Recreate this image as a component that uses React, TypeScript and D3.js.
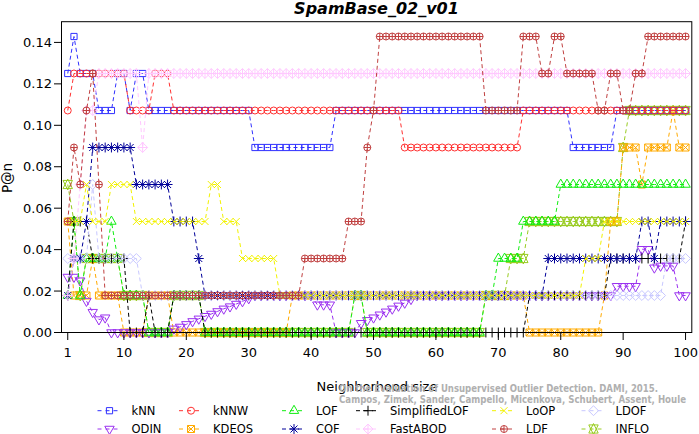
import React from "react";
import * as d3 from "d3";

// neighborhood size k = 1..100, n = 56 outliers (P@n = hits / 56)
const neighborhoodSizes = d3.range(1, 101);
const outlierCount = 56;

const xTicks = [1, 10, 20, 30, 40, 50, 60, 70, 80, 90, 100];
const yTicks = [0, 0.02, 0.04, 0.06, 0.08, 0.1, 0.12, 0.14];

// hits in the top n, per k
const kNN = [
  7, 8, 7, 7, 7, 6, 6, 6, 7, 7,
  6, 7, 7, 6, 6, 6, 6, 6, 6, 6,
  6, 6, 6, 6, 6, 6, 6, 6, 6, 6,
  5, 5, 5, 5, 5, 5, 5, 5, 5, 5,
  5, 5, 5, 6, 6, 6, 6, 6, 6, 6,
  6, 6, 6, 6, 6, 6, 6, 6, 6, 6,
  6, 6, 6, 6, 6, 6, 6, 6, 6, 6,
  6, 6, 6, 6, 6, 6, 6, 6, 6, 6,
  6, 5, 5, 5, 5, 5, 5, 5, 6, 6,
  6, 6, 6, 6, 6, 6, 6, 6, 6, 6,
];
const kNNW = [
  6, 7, 7, 7, 7, 7, 7, 7, 7, 7,
  6, 6, 6, 6, 7, 7, 7, 6, 6, 6,
  6, 6, 6, 6, 6, 6, 6, 6, 6, 6,
  6, 6, 6, 6, 6, 6, 6, 6, 6, 6,
  6, 6, 6, 6, 6, 6, 6, 6, 6, 6,
  6, 6, 6, 6, 5, 5, 5, 5, 5, 5,
  5, 5, 5, 5, 5, 5, 5, 5, 5, 5,
  5, 5, 5, 6, 6, 6, 6, 6, 6, 6,
  6, 6, 6, 6, 6, 6, 6, 6, 6, 6,
  6, 6, 6, 6, 6, 6, 6, 6, 6, 6,
];
const LOF = [
  1, 3, 1, 2, 2, 2, 2, 3, 2, 1,
  1, 1, 1, 0, 0, 0, 0, 1, 1, 1,
  1, 1, 0, 0, 0, 0, 0, 0, 0, 0,
  0, 0, 0, 0, 0, 0, 0, 0, 0, 0,
  0, 0, 0, 0, 0, 0, 1, 1, 0, 0,
  0, 0, 0, 0, 0, 0, 0, 0, 0, 0,
  0, 0, 0, 0, 0, 0, 0, 1, 1, 2,
  2, 2, 2, 3, 3, 3, 3, 3, 3, 4,
  4, 4, 4, 4, 4, 4, 4, 4, 4, 4,
  4, 4, 4, 4, 4, 4, 4, 4, 4, 4,
];
const SimplifiedLOF = [
  1, 3, 3, 3, 2, 2, 2, 2, 2, 2,
  0, 0, 0, 1, 0, 0, 0, 1, 1, 1,
  1, 1, 0, 0, 0, 0, 0, 0, 0, 0,
  0, 0, 0, 0, 0, 0, 0, 0, 0, 0,
  0, 0, 0, 0, 0, 0, 0, 0, 0, 0,
  0, 0, 0, 0, 0, 0, 0, 0, 0, 0,
  0, 0, 0, 0, 0, 0, 0, 0, 0, 0,
  0, 0, 0, 0, 1, 1, 1, 1, 1, 1,
  1, 1, 1, 1, 1, 1, 1, 2, 2, 2,
  2, 2, 2, 2, 2, 2, 2, 2, 2, 3,
];
const LoOP = [
  3, 3, 3, 4, 3, 3, 3, 4, 4, 4,
  4, 3, 3, 3, 3, 3, 3, 3, 3, 3,
  3, 3, 3, 4, 4, 3, 3, 3, 2, 2,
  2, 2, 2, 2, 1, 1, 1, 1, 1, 1,
  1, 1, 1, 1, 1, 1, 1, 1, 1, 1,
  1, 1, 1, 1, 1, 1, 1, 1, 1, 1,
  1, 1, 1, 1, 1, 1, 1, 1, 1, 1,
  1, 1, 1, 1, 1, 1, 1, 1, 1, 1,
  1, 1, 1, 2, 2, 2, 3, 3, 3, 3,
  3, 3, 3, 3, 3, 3, 3, 3, 3, 3,
];
const LDOF = [
  2, 2, 2, 2, 4, 2, 2, 2, 2, 2,
  2, 2, 1, 1, 1, 1, 1, 1, 1, 1,
  1, 1, 1, 1, 1, 1, 1, 1, 1, 1,
  1, 1, 1, 1, 1, 1, 1, 1, 1, 1,
  1, 1, 1, 1, 1, 1, 1, 1, 1, 1,
  1, 1, 1, 1, 1, 1, 1, 1, 1, 1,
  1, 1, 1, 1, 1, 1, 1, 1, 1, 1,
  1, 1, 1, 1, 1, 1, 1, 1, 1, 1,
  1, 1, 1, 1, 1, 1, 1, 1, 1, 1,
  1, 1, 1, 1, 1, 1, 2, 2, 2, 2,
];
const ODIN = [
  1.5, 1.5, 1.4, 0.85, 0.55, 0.35, 0.4, 0, 0, 0,
  0, 0, 0, 0, 0, 0, 0, 0.1, 0.15, 0.22,
  0.3, 0.37, 0.44, 0.5, 0.57, 0.64, 0.7, 0.77, 0.84, 0.92,
  1, 1, 1, 1, 1, 1, 1, 1, 1, 1,
  0.75, 0.75, 0.75, 0, 0, 0, 0, 0.25, 0.33, 0.4,
  0.48, 0.56, 0.64, 0.72, 0.8, 0.9, 1, 1, 1, 1,
  1, 1, 1, 1, 1, 1, 1, 1, 1, 1,
  1, 1, 1, 1, 1, 1, 1, 1, 1, 1,
  1, 1, 1, 1, 1, 1, 1, 1, 1.25, 1.25,
  1.25, 1.25, 2.25, 2.25, 1.75, 1.8, 1.8, 1.8, 1, 1,
];
const KDEOS = [
  3, 1, 1, 1, 2, 1, 1, 1, 1, 0,
  0, 0, 0, 1, 1, 1, 1, 0, 0, 0,
  0, 0, 0, 0, 0, 0, 0, 0, 0, 0,
  0, 0, 0, 0, 0, 0, 1, 1, 1, 1,
  1, 1, 1, 1, 1, 1, 1, 1, 1, 1,
  1, 1, 1, 1, 1, 1, 1, 1, 1, 1,
  1, 1, 1, 1, 1, 1, 1, 1, 1, 1,
  1, 1, 1, 1, 0, 0, 0, 0, 0, 0,
  0, 0, 0, 0, 0, 0, 1, 3, 3, 5,
  5, 5, 4, 5, 5, 5, 5, 6, 5, 5,
];
const COF = [
  1, 2, 2, 3, 5, 5, 5, 5, 5, 5,
  5, 4, 4, 4, 4, 4, 4, 3, 3, 3,
  3, 2, 1, 1, 1, 1, 1, 1, 1, 1,
  1, 1, 1, 1, 1, 1, 1, 1, 1, 1,
  1, 1, 1, 1, 1, 1, 1, 1, 1, 1,
  1, 1, 1, 1, 1, 1, 1, 1, 1, 1,
  1, 1, 1, 1, 1, 1, 1, 1, 1, 1,
  1, 1, 1, 1, 1, 1, 1, 2, 2, 2,
  2, 2, 2, 2, 2, 2, 2, 2, 2, 2,
  2, 2, 3, 3, 2, 3, 3, 3, 3, 3,
];
const FastABOD = [
  1, 2, 4, 6, 6, 7, 7, 7, 7, 7,
  7, 7, 5, 7, 7, 7, 7, 7, 7, 7,
  7, 7, 7, 7, 7, 7, 7, 7, 7, 7,
  7, 7, 7, 7, 7, 7, 7, 7, 7, 7,
  7, 7, 7, 7, 7, 7, 7, 7, 7, 7,
  7, 7, 7, 7, 7, 7, 7, 7, 7, 7,
  7, 7, 7, 7, 7, 7, 7, 7, 7, 7,
  7, 7, 7, 7, 7, 7, 7, 7, 7, 7,
  7, 7, 7, 7, 7, 7, 7, 7, 7, 7,
  7, 7, 7, 7, 7, 7, 7, 7, 7, 7,
];
const LDF = [
  3, 5, 4, 6, 7, 4, 1, 1, 1, 1,
  1, 1, 1, 1, 1, 1, 1, 1, 1, 1,
  1, 1, 1, 1, 1, 1, 1, 1, 1, 1,
  1, 1, 1, 1, 1, 1, 1, 1, 2, 2,
  2, 2, 2, 2, 2, 3, 3, 3, 5, 6,
  8, 8, 8, 8, 8, 8, 8, 8, 8, 8,
  8, 8, 8, 8, 8, 8, 8, 6, 6, 6,
  6, 6, 6, 8, 8, 8, 7, 7, 8, 8,
  7, 7, 7, 7, 7, 6, 6, 7, 7, 6,
  6, 7, 7, 8, 8, 8, 8, 8, 8, 8,
];
const INFLO = [
  4, 3, 1, 2, 2, 2, 2, 2, 2, 1,
  1, 1, 1, 0, 0, 0, 0, 1, 1, 1,
  1, 1, 0, 0, 0, 0, 0, 0, 0, 0,
  0, 0, 0, 0, 0, 0, 0, 0, 0, 0,
  0, 0, 0, 0, 0, 0, 1, 1, 0, 0,
  0, 0, 0, 0, 0, 0, 0, 0, 0, 0,
  0, 0, 0, 0, 0, 0, 0, 1, 1, 1,
  1, 2, 2, 2, 3, 3, 3, 3, 3, 3,
  3, 3, 3, 3, 3, 3, 3, 3, 3, 5,
  6, 6, 6, 6, 6, 6, 6, 6, 6, 6,
];

// legend order (row by row)
const series = [
  { name: "kNN", hits: kNN, color: "#3030ff", pch: 0 },
  { name: "kNNW", hits: kNNW, color: "#ff3030", pch: 1 },
  { name: "LOF", hits: LOF, color: "#11ee11", pch: 2 },
  { name: "SimplifiedLOF", hits: SimplifiedLOF, color: "#000000", pch: 3 },
  { name: "LoOP", hits: LoOP, color: "#f2f200", pch: 4 },
  { name: "LDOF", hits: LDOF, color: "#c8c8ff", pch: 5 },
  { name: "ODIN", hits: ODIN, color: "#9a30f0", pch: 6 },
  { name: "KDEOS", hits: KDEOS, color: "#ffaa00", pch: 7 },
  { name: "COF", hits: COF, color: "#000099", pch: 8 },
  { name: "FastABOD", hits: FastABOD, color: "#ffc8ff", pch: 9 },
  { name: "LDF", hits: LDF, color: "#c04040", pch: 10 },
  { name: "INFLO", hits: INFLO, color: "#99cc22", pch: 11 },
];

// stacking order of the series in the plot (bottom first)
const drawNames = ["INFLO", "KDEOS", "ODIN", "kNN", "kNNW", "LOF", "SimplifiedLOF",
  "COF", "LDOF", "LoOP", "FastABOD", "LDF"];
const drawOrder = drawNames.map((n) => series.find((s) => s.name === n)!);

// R-like plotting symbols centred on 0,0
function symbol(pch: number, s: number): string {
  const sq = 0.886 * s;
  const r2 = Math.SQRT2 * s;
  const t0 = 1.5551 * s, t1 = 1.3468 * s, t2 = 0.7776 * s;
  const circle = (r: number) => `M${r},0A${r},${r} 0 1,1 ${-r},0A${r},${r} 0 1,1 ${r},0Z`;
  const plus = (r: number) => `M${-r},0H${r}M0,${-r}V${r}`;
  const times = (r: number) => `M${-r},${-r}L${r},${r}M${-r},${r}L${r},${-r}`;
  const square = (r: number) => `M${-r},${-r}H${r}V${r}H${-r}Z`;
  const diamond = (r: number) => `M0,${-r}L${r},0L0,${r}L${-r},0Z`;
  switch (pch) {
    case 0: return square(sq);
    case 1: return circle(s);
    case 2: return `M0,${-t0}L${t1},${t2}L${-t1},${t2}Z`;
    case 3: return plus(r2);
    case 4: return times(s);
    case 5: return diamond(r2);
    case 6: return `M0,${t0}L${t1},${-t2}L${-t1},${-t2}Z`;
    case 7: return square(s) + times(s);
    case 8: return times(s) + plus(r2);
    case 9: return diamond(r2) + plus(r2);
    case 10: return circle(s) + plus(s);
    case 11: {
      const yc = 0.5 * (t2 + t0);
      return `M0,${t0}L${t1},${-yc}L${-t1},${-yc}Z` + `M0,${-t0}L${t1},${yc}L${-t1},${yc}Z`;
    }
    default: return circle(s);
  }
}

const W = 699;
const H = 434;
const font = "'DejaVu Sans', 'Liberation Sans', sans-serif";

export default function App() {
  const x = d3.scaleLinear().domain([0, 101]).range([61.5, 691.8]);
  const y = d3.scaleLinear().domain([0, 0.15]).range([332.5, 21.7]);
  const val = (h: number) => h / outlierCount;

  const line = d3
    .line<number>()
    .x((_d, i) => x(neighborhoodSizes[i]))
    .y((d) => y(val(d)));

  const sym = 3.5;

  // legend columns: text x, rows top to bottom
  const legendCols = [131.5, 213, 316, 390, 526, 615.5];
  const legendRows = [410.7, 429];

  return (
    <div style={{ position: "absolute", left: 0, top: 0, background: "#fff" }}>
      <svg width={W} height={H} style={{ display: "block" }}>
        <rect width={W} height={H} fill="#fff" />

        <text x={376.5} y={14} textAnchor="middle" fontFamily={font} fontSize={16}
          fontWeight="bold" fontStyle="italic">SpamBase_02_v01</text>

        {drawOrder.map((s) => (
          <g key={s.name}>
            <path d={line(s.hits) || ""} fill="none" stroke={s.color} strokeWidth={1}
              strokeDasharray="4,3" />
            {s.hits.map((h, i) => (
              <path key={i} d={symbol(s.pch, sym)}
                transform={`translate(${x(neighborhoodSizes[i])},${y(val(h))})`}
                fill="none" stroke={s.color} strokeWidth={1} />
            ))}
          </g>
        ))}

        <rect x={61.5} y={21.7} width={691.8 - 61.5} height={332.5 - 21.7}
          fill="none" stroke="#000" strokeWidth={1} />

        {/* y axis */}
        <line x1={61.5} x2={61.5} y1={y(0)} y2={y(0.14)} stroke="#000" />
        {yTicks.map((t) => (
          <g key={t}>
            <line x1={54} x2={61.5} y1={y(t)} y2={y(t)} stroke="#000" />
            <text x={52} y={y(t) + 4.6} textAnchor="end" fontFamily={font} fontSize={13}>
              {t.toFixed(2)}
            </text>
          </g>
        ))}
        <text transform={`translate(11.5,178) rotate(-90)`} textAnchor="middle"
          fontFamily={font} fontSize={13.5}>P@n</text>

        {/* x axis */}
        {xTicks.map((t) => (
          <g key={t}>
            <line x1={x(t)} x2={x(t)} y1={332.5} y2={340} stroke="#000" />
            <text x={x(t)} y={356.7} textAnchor="middle" fontFamily={font} fontSize={13}>
              {t}
            </text>
          </g>
        ))}
        <text x={377} y={391} textAnchor="middle" fontFamily={font} fontSize={13}>
          Neighborhood size
        </text>

        <g fontFamily="'DejaVu Sans Condensed', 'Liberation Sans Narrow', 'DejaVu Sans', sans-serif"
          fontWeight="bold" fontSize={10.5} fill="#b0b0b0">
          <text x={339} y={392} textLength={319} lengthAdjust="spacingAndGlyphs">
            On the Evaluation of Unsupervised Outlier Detection. DAMI, 2015.
          </text>
          <text x={339} y={402.5} textLength={347} lengthAdjust="spacingAndGlyphs">
            Campos, Zimek, Sander, Campello, Micenkova, Schubert, Assent, Houle
          </text>
        </g>

        {/* legend */}
        {series.map((s, i) => {
          const col = i % 6;
          const row = Math.floor(i / 6);
          const tx = legendCols[col];
          const mx = tx - 22;
          const my = legendRows[row];
          return (
            <g key={s.name}>
              <line x1={mx - 12} x2={mx + 12} y1={my} y2={my} stroke={s.color}
                strokeDasharray="4,4" />
              <path d={symbol(s.pch, sym)} transform={`translate(${mx},${my})`}
                fill="none" stroke={s.color} />
              <text x={tx} y={my + 4.2} fontFamily={font} fontSize={11.5}>{s.name}</text>
            </g>
          );
        })}
      </svg>
    </div>
  );
}
